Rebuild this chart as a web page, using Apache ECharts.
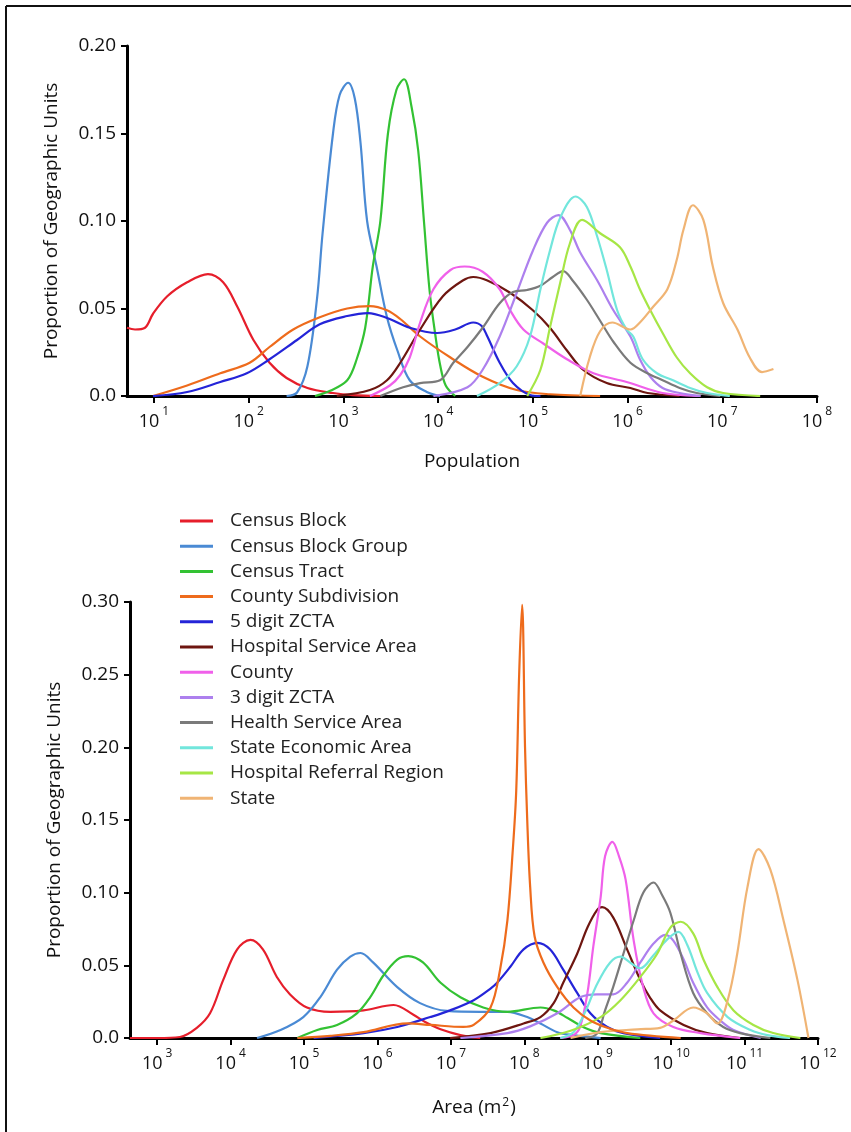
<!DOCTYPE html>
<html>
<head>
<meta charset="utf-8">
<script src="https://cdn.jsdelivr.net/npm/echarts@6/dist/echarts.min.js"></script>
<style>
  html, body { margin: 0; padding: 0; background: #fff; }
  #chart { width: 851px; height: 1132px; }
</style>
</head>
<body>
<div id="chart"></div>
<script>
// 类别
var seriesNames = ["Census Block", "Census Block Group", "Census Tract", "County Subdivision",
  "5 digit ZCTA", "Hospital Service Area", "County", "3 digit ZCTA", "Health Service Area",
  "State Economic Area", "Hospital Referral Region", "State"];
var colors = ["#e61e2b", "#4a8ad4", "#33c233", "#ee6b1c", "#2424d8", "#6e1610",
  "#f060ea", "#ad80ee", "#7a7a7a", "#72e6dc", "#a6e645", "#f0b474"];

// 刻度 (指数)
var popTicks = [1, 2, 3, 4, 5, 6, 7, 8];
var areaTicks = [3, 4, 5, 6, 7, 8, 9, 10, 11, 12];

// 上图: [log10(人口), 比例]
var popCensusBlock = [[0.715,0.039],[0.80,0.038],[0.905,0.039],[0.99,0.047],[1.14,0.057],[1.35,0.065],[1.57,0.0697],[1.73,0.065],[1.88,0.051],[2.05,0.032],[2.22,0.019],[2.40,0.0103],[2.62,0.0046],[2.89,0.0017],[3.10,0.0005],[3.39,0]];
var popBlockGroup = [[2.40,0],[2.51,0.002],[2.62,0.017],[2.72,0.055],[2.78,0.093],[2.89,0.15],[2.96,0.172],[3.05,0.179],[3.12,0.17],[3.18,0.145],[3.25,0.10],[3.35,0.074],[3.46,0.045],[3.57,0.026],[3.70,0.009],[3.88,0.0023],[4.02,0]];
var popTract = [[2.70,0],[2.86,0.003],[3.04,0.009],[3.14,0.021],[3.23,0.039],[3.31,0.074],[3.39,0.10],[3.47,0.15],[3.56,0.175],[3.64,0.181],[3.72,0.165],[3.79,0.14],[3.85,0.10],[3.91,0.06],[3.97,0.035],[4.02,0.018],[4.08,0.006],[4.18,0]];
var popSubdivision = [[0.99,0],[1.35,0.006],[1.70,0.013],[2.01,0.019],[2.22,0.028],[2.47,0.038],[2.75,0.045],[3.04,0.050],[3.28,0.0514],[3.46,0.049],[3.60,0.044],[3.81,0.034],[4.13,0.022],[4.47,0.011],[4.83,0.0034],[5.18,0.001],[5.71,0]];
var popZcta5 = [[0.99,0],[1.35,0.0023],[1.70,0.008],[1.98,0.013],[2.22,0.021],[2.51,0.032],[2.75,0.041],[3.04,0.0457],[3.26,0.0474],[3.46,0.0446],[3.70,0.039],[3.99,0.036],[4.18,0.038],[4.37,0.042],[4.46,0.040],[4.52,0.034],[4.65,0.019],[4.79,0.0074],[4.97,0.0006],[5.08,0]];
var popHsa = [[2.93,0],[3.28,0.0034],[3.46,0.009],[3.60,0.019],[3.81,0.038],[4.05,0.057],[4.26,0.066],[4.37,0.068],[4.52,0.066],[4.76,0.059],[5.00,0.049],[5.18,0.039],[5.36,0.026],[5.53,0.015],[5.78,0.0074],[6.03,0.0046],[6.21,0.0017],[6.55,0]];
var popCounty = [[3.28,0],[3.49,0.006],[3.60,0.012],[3.70,0.022],[3.81,0.042],[3.95,0.061],[4.13,0.072],[4.28,0.074],[4.47,0.071],[4.65,0.061],[4.76,0.049],[4.90,0.038],[5.11,0.030],[5.36,0.021],[5.64,0.013],[5.99,0.008],[6.37,0.0017],[6.77,0]];
var popZcta3 = [[3.95,0],[4.31,0.005],[4.47,0.015],[4.65,0.034],[4.83,0.059],[5.00,0.083],[5.15,0.099],[5.27,0.1034],[5.39,0.095],[5.50,0.082],[5.68,0.066],[5.85,0.049],[6.03,0.034],[6.13,0.021],[6.24,0.011],[6.37,0.0046],[6.55,0.0017],[6.77,0]];
var popHealthArea = [[3.39,0],[3.63,0.005],[3.81,0.0074],[4.02,0.009],[4.16,0.019],[4.31,0.028],[4.47,0.039],[4.65,0.053],[4.79,0.0594],[4.94,0.0606],[5.08,0.063],[5.21,0.068],[5.32,0.0714],[5.42,0.066],[5.57,0.055],[5.71,0.043],[5.85,0.031],[6.03,0.019],[6.21,0.013],[6.37,0.009],[6.55,0.0046],[6.73,0.0017],[6.98,0]];
var popSea = [[4.41,0],[4.65,0.0074],[4.83,0.017],[4.97,0.034],[5.08,0.061],[5.18,0.083],[5.29,0.102],[5.45,0.114],[5.57,0.108],[5.68,0.091],[5.78,0.072],[5.89,0.049],[5.99,0.038],[6.06,0.034],[6.16,0.021],[6.31,0.013],[6.48,0.009],[6.66,0.0046],[6.84,0.0017],[7.08,0]];
var popHrr = [[4.94,0],[5.08,0.015],[5.18,0.039],[5.29,0.065],[5.39,0.087],[5.52,0.1006],[5.71,0.093],[5.92,0.085],[6.03,0.074],[6.13,0.061],[6.24,0.049],[6.37,0.036],[6.52,0.022],[6.66,0.013],[6.84,0.005],[7.01,0.0017],[7.40,0]];
var popState = [[5.50,0],[5.60,0.022],[5.71,0.037],[5.84,0.042],[6.03,0.038],[6.13,0.042],[6.27,0.051],[6.42,0.061],[6.52,0.078],[6.59,0.095],[6.69,0.109],[6.80,0.1006],[6.90,0.074],[7.01,0.053],[7.16,0.038],[7.29,0.022],[7.42,0.0137],[7.54,0.0154]];

// 下图: [log10(面积 m2), 比例]
var areaCensusBlock = [[2.63,0],[3.0,0],[3.31,0.0007],[3.54,0.007],[3.72,0.017],[3.90,0.040],[4.09,0.061],[4.27,0.0675],[4.44,0.061],[4.63,0.042],[4.81,0.030],[5.04,0.021],[5.36,0.018],[5.81,0.019],[6.22,0.0227],[6.49,0.016],[6.65,0.011],[6.86,0.006],[7.13,0.002],[7.40,0]];
var areaBlockGroup = [[4.36,0],[4.68,0.0055],[4.99,0.0144],[5.22,0.028],[5.45,0.047],[5.63,0.056],[5.77,0.0585],[5.94,0.052],[6.27,0.035],[6.58,0.024],[6.95,0.0186],[7.40,0.018],[7.77,0.018],[8.04,0.0144],[8.22,0.010],[8.45,0.004],[8.67,0.002],[9.04,0]];
var areaTract = [[4.91,0],[5.18,0.0055],[5.45,0.009],[5.72,0.017],[5.90,0.028],[6.08,0.043],[6.27,0.054],[6.42,0.0564],[6.62,0.052],[6.86,0.038],[7.13,0.028],[7.44,0.021],[7.77,0.018],[8.22,0.021],[8.40,0.019],[8.59,0.0138],[8.80,0.0076],[9.04,0.0034],[9.58,0]];
var areaSubdivision = [[4.91,0],[5.36,0.0015],[5.81,0.004],[6.41,0.010],[6.72,0.009],[7.17,0.0076],[7.31,0.009],[7.54,0.021],[7.67,0.047],[7.77,0.081],[7.84,0.127],[7.89,0.17],[7.93,0.25],[7.97,0.298],[8.01,0.20],[8.04,0.15],[8.08,0.104],[8.14,0.070],[8.26,0.052],[8.45,0.035],[8.67,0.021],[8.90,0.012],[9.13,0.007],[9.40,0.0034],[10.13,0]];
var areaZcta5 = [[5.13,0],[5.81,0.0034],[6.27,0.0076],[6.72,0.0144],[6.99,0.019],[7.31,0.026],[7.54,0.034],[7.63,0.038],[7.81,0.049],[7.99,0.061],[8.18,0.0655],[8.35,0.061],[8.53,0.047],[8.72,0.031],[8.90,0.017],[9.13,0.0076],[9.35,0.0034],[9.85,0]];
var areaHsa = [[6.99,0],[7.54,0.0034],[7.99,0.010],[8.22,0.0144],[8.40,0.024],[8.53,0.038],[8.72,0.058],[8.86,0.076],[8.99,0.088],[9.06,0.090],[9.21,0.083],[9.40,0.061],[9.58,0.040],[9.71,0.028],[9.85,0.019],[10.17,0.009],[10.49,0.0034],[10.94,0]];
var areaCounty = [[8.49,0],[8.67,0.002],[8.76,0.0076],[8.86,0.031],[8.94,0.063],[9.04,0.097],[9.10,0.125],[9.20,0.135],[9.29,0.125],[9.38,0.109],[9.49,0.067],[9.62,0.035],[9.76,0.017],[10.03,0.0076],[10.40,0.0034],[10.94,0]];
var areaZcta3 = [[7.13,0],[7.77,0.0034],[8.08,0.008],[8.45,0.017],[8.76,0.028],[8.99,0.030],[9.21,0.030],[9.40,0.038],[9.58,0.052],[9.76,0.065],[9.92,0.071],[10.03,0.067],[10.17,0.054],[10.30,0.038],[10.49,0.021],[10.67,0.012],[10.85,0.0055],[11.22,0]];
var areaHealthArea = [[8.83,0],[8.99,0.003],[9.10,0.019],[9.21,0.035],[9.35,0.058],[9.49,0.081],[9.62,0.100],[9.76,0.107],[9.88,0.098],[9.99,0.086],[10.13,0.058],[10.30,0.031],[10.49,0.017],[10.71,0.0076],[10.94,0.0034],[11.35,0]];
var areaSea = [[8.49,0],[8.67,0.004],[8.83,0.018],[8.99,0.037],[9.17,0.052],[9.31,0.056],[9.44,0.052],[9.58,0.048],[9.76,0.057],[9.95,0.068],[10.10,0.073],[10.22,0.064],[10.36,0.045],[10.49,0.031],[10.77,0.0144],[11.08,0.0055],[11.31,0.002],[11.62,0]];
var areaHrr = [[8.22,0],[8.63,0.005],[9.04,0.0144],[9.31,0.026],[9.58,0.042],[9.81,0.058],[9.99,0.076],[10.13,0.080],[10.30,0.072],[10.44,0.054],[10.63,0.035],[10.85,0.019],[11.12,0.009],[11.39,0.0034],[11.76,0]];
var areaState = [[8.63,0],[9.04,0.004],[9.54,0.006],[9.85,0.007],[10.03,0.012],[10.30,0.021],[10.49,0.017],[10.63,0.010],[10.77,0.026],[10.90,0.058],[11.04,0.104],[11.19,0.130],[11.35,0.116],[11.53,0.081],[11.72,0.040],[11.87,0]];

var popSeriesData = [popCensusBlock, popBlockGroup, popTract, popSubdivision, popZcta5, popHsa,
  popCounty, popZcta3, popHealthArea, popSea, popHrr, popState];
var areaSeriesData = [areaCensusBlock, areaBlockGroup, areaTract, areaSubdivision, areaZcta5, areaHsa,
  areaCounty, areaZcta3, areaHealthArea, areaSea, areaHrr, areaState];

var FONT = "Open Sans";
var chart = echarts.init(document.getElementById("chart"), null, { renderer: "canvas" });

function expLabel(v) {
  return "{a|10}{b|" + v + "}";
}
function yLabel(v) {
  return v === 0 ? "0.0" : v.toFixed(2);
}
// 上标: a 往下压, b 往上抬
var expRich = {
  a: { fontSize: 18, fontFamily: FONT, color: "#111", lineHeight: 20, padding: [10, 0, 0, 0] },
  b: { fontSize: 12, fontFamily: FONT, color: "#111", lineHeight: 14, padding: [0, 0, 10, 3] }
};

function xAxisOpt(grid, min, max, ticks, name, nameGap, nameRich) {
  return {
    type: "value", gridIndex: grid, min: min, max: max,
    name: name, nameLocation: "middle", nameGap: nameGap,
    nameTextStyle: { fontSize: 19, fontFamily: FONT, color: "#111", rich: nameRich },
    axisLine: { lineStyle: { color: "#000", width: 3 } },
    axisTick: { customValues: ticks, length: 7, lineStyle: { color: "#000", width: 2 } },
    axisLabel: { customValues: ticks, formatter: expLabel, rich: expRich, margin: 11 },
    splitLine: { show: false }
  };
}
function yAxisOpt(grid, max) {
  return {
    type: "value", gridIndex: grid, min: 0, max: max, interval: 0.05,
    name: "Proportion of Geographic Units", nameLocation: "middle", nameGap: 66,
    nameTextStyle: { fontSize: 19, fontFamily: FONT, color: "#111" },
    axisLine: { show: true, lineStyle: { color: "#000", width: 3 } },
    axisTick: { show: true, length: 6, lineStyle: { color: "#000", width: 2 } },
    axisLabel: { formatter: yLabel, fontSize: 19, fontFamily: FONT, color: "#111", margin: 11 },
    splitLine: { show: false }
  };
}

var series = [];
seriesNames.forEach(function (name, i) {
  [popSeriesData, areaSeriesData].forEach(function (set, g) {
    series.push({
      name: name, type: "line", xAxisIndex: g, yAxisIndex: g,
      data: set[i], smooth: 0.35, showSymbol: false, symbol: "none",
      lineStyle: { color: colors[i], width: 2.2 }, itemStyle: { color: colors[i] },
      z: g === 1 && i === 3 ? 3 : 2
    });
  });
});

var option = {
  backgroundColor: "#fff",
  animation: false,
  color: colors,
  grid: [
    { left: 127, top: 46, width: 690, height: 350 },
    { left: 130, top: 602, width: 688, height: 436 }
  ],
  legend: {
    data: seriesNames, orient: "vertical", left: 175, top: 506,
    icon: "rect", itemWidth: 33, itemHeight: 3, itemGap: 5.2,
    textStyle: { fontSize: 19, fontFamily: FONT, color: "#222", lineHeight: 20, padding: [0, 0, 0, 12] }
  },
  xAxis: [
    xAxisOpt(0, 0.715, 8, popTicks, "Population", 56),
    xAxisOpt(1, 2.63, 12, areaTicks, "Area (m{s|2})", 59, {
      s: { fontSize: 12, fontFamily: FONT, color: "#111", verticalAlign: "bottom", padding: [0, 1, 9, 1] }
    })
  ],
  yAxis: [yAxisOpt(0, 0.2), yAxisOpt(1, 0.3)],
  series: series,
  graphic: [
    { type: "line", shape: { x1: 6, y1: 6, x2: 851, y2: 6 }, style: { stroke: "#111", lineWidth: 2 } },
    { type: "line", shape: { x1: 6, y1: 6, x2: 6, y2: 1132 }, style: { stroke: "#111", lineWidth: 2 } }
  ]
};
chart.setOption(option);
</script>
</body>
</html>
